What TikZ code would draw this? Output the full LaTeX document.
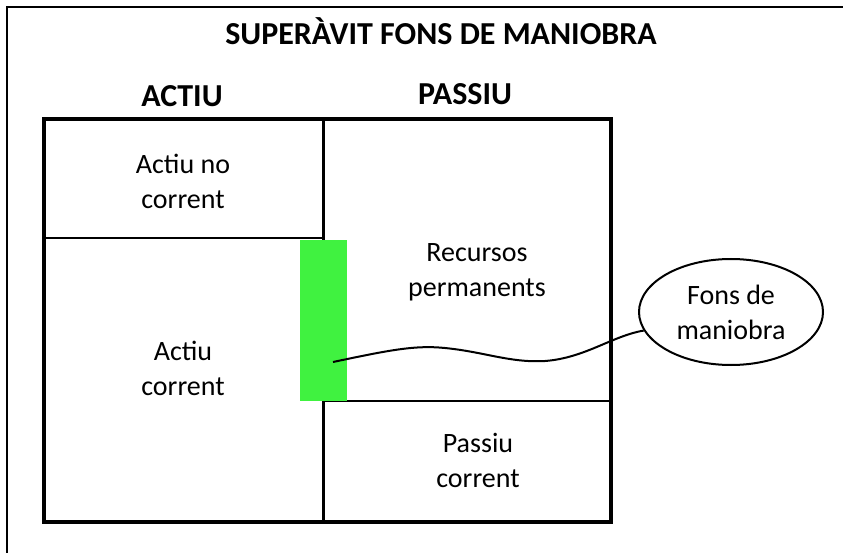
\documentclass[tikz,border=0pt]{standalone}
\usepackage{fontspec}
\setmainfont{Carlito}
\usetikzlibrary{shapes.geometric, positioning}
\definecolor{fonsgreen}{RGB}{64,242,64}

\begin{document}
\begin{tikzpicture}[x=1pt,y=-1pt]
  \tikzstyle{body}=[align=center,font=\fontsize{28}{35}\selectfont]
  \tikzstyle{header}=[anchor=base,font=\fontsize{32}{38}\selectfont\bfseries]
  \tikzstyle{frame}=[line width=2pt]
  \tikzstyle{outer}=[line width=3.5pt]
  \tikzstyle{divider}=[line width=3pt]
  \tikzstyle{inner}=[line width=1.3pt]
  \tikzstyle{wire}=[line width=2pt]

  \useasboundingbox (0,0) rectangle (843,553);
  \draw[frame] (7,553) -- (7,7) -- (843,7);

  \node[header] (title)  at (441,45)  {SUPERÀVIT FONS DE MANIOBRA};
  \node[header] (actiu)  at (182,107) {ACTIU};
  \node[header] (passiu) at (465,105) {PASSIU};

  \draw[inner] (44,238) -- (323,238);
  \draw[inner] (323,401) -- (611,401);
  \draw[divider] (323,119) -- (323,522);
  \draw[outer] (44,119) rectangle (611,522);

  \node[fill=fonsgreen,inner sep=0pt,minimum width=47pt,minimum height=161pt]
    (fm) at (323.5,320.5) {};
  \coordinate (fm_in) at (333,362);

  \node[body] (act_nc) at (183,181) {Actiu no\\corrent};
  \node[body] (act_c)  at (183,368) {Actiu\\corrent};
  \node[body] (pas_rp) at (477,272) {Recursos\\permanents};
  \node[body] (pas_c)  at (478,460) {Passiu\\corrent};

  \node[ellipse,draw,wire,body,minimum width=184pt,minimum height=106pt]
    (fons) at (731,312) {Fons de\\maniobra};

  \draw[wire] (fm_in) .. controls (390,350) and (415,345) .. (445,348)
    .. controls (485,352) and (510,363) .. (545,361)
    .. controls (585,358) and (612,336) .. (fons.192);
\end{tikzpicture}
\end{document}
